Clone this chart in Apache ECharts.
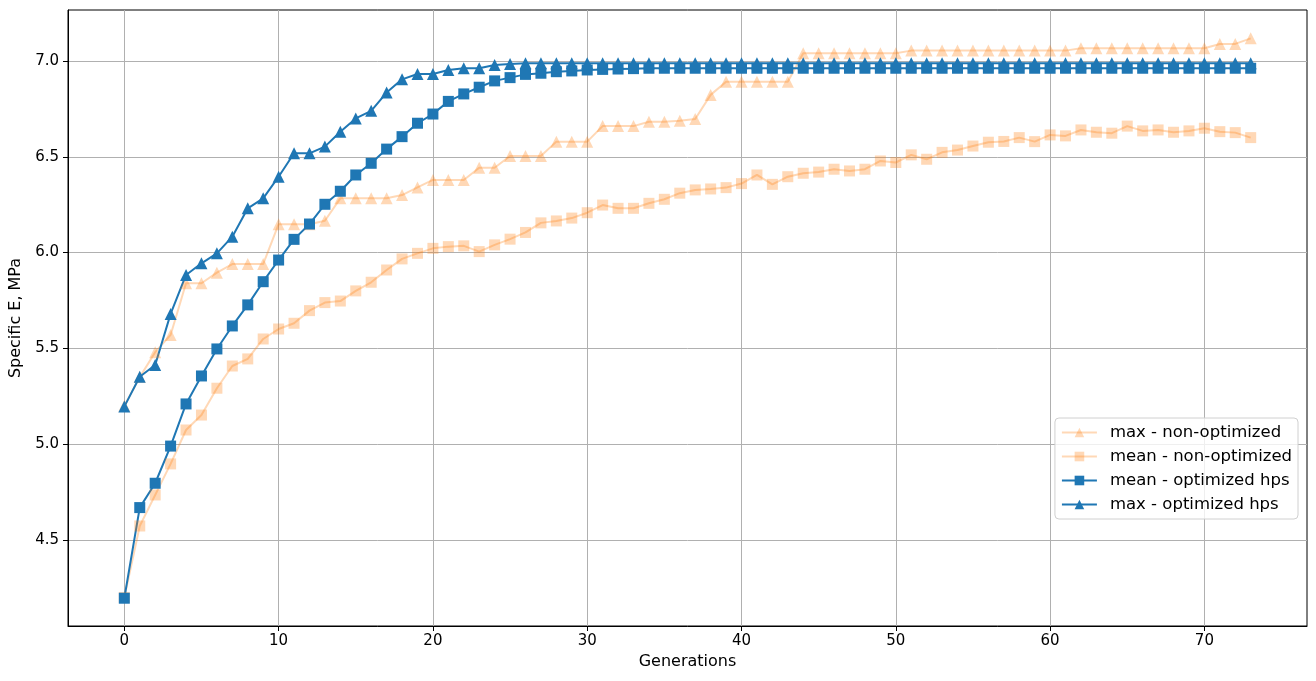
<!DOCTYPE html>
<html>
<head>
<meta charset="utf-8">
<script src="https://cdn.jsdelivr.net/npm/echarts@6/dist/echarts.min.js"></script>
<style>html,body{margin:0;padding:0;background:#fff}#c{width:1316px;height:681px}</style>
</head>
<body>
<div id="c"></div>
<script>
const generations = [0,1,2,3,4,5,6,7,8,9,10,11,12,13,14,15,16,17,18,19,20,21,22,23,24,25,26,27,28,29,30,31,32,33,34,35,36,37,38,39,40,41,42,43,44,45,46,47,48,49,50,51,52,53,54,55,56,57,58,59,60,61,62,63,64,65,66,67,68,69,70,71,72,73];
const maxNonOptimized = [5.20,5.35,5.48,5.57,5.84,5.84,5.895,5.94,5.94,5.94,6.148,6.148,6.148,6.166,6.283,6.283,6.283,6.283,6.30,6.34,6.379,6.379,6.379,6.443,6.443,6.504,6.504,6.504,6.579,6.579,6.579,6.66,6.66,6.66,6.683,6.683,6.688,6.697,6.823,6.892,6.892,6.892,6.892,6.892,7.04,7.04,7.04,7.04,7.04,7.04,7.04,7.054,7.054,7.054,7.054,7.054,7.054,7.054,7.054,7.054,7.054,7.054,7.066,7.066,7.066,7.066,7.066,7.066,7.066,7.066,7.066,7.089,7.089,7.118];
const meanNonOptimized = [4.20,4.573,4.735,4.897,5.074,5.152,5.292,5.408,5.445,5.549,5.601,5.631,5.697,5.739,5.747,5.80,5.845,5.909,5.967,5.996,6.022,6.031,6.035,6.005,6.04,6.07,6.105,6.155,6.165,6.18,6.208,6.248,6.231,6.231,6.257,6.278,6.31,6.327,6.332,6.339,6.36,6.405,6.356,6.396,6.414,6.42,6.435,6.426,6.435,6.478,6.47,6.51,6.487,6.523,6.535,6.556,6.576,6.58,6.60,6.579,6.614,6.609,6.64,6.628,6.623,6.66,6.635,6.64,6.628,6.635,6.649,6.631,6.626,6.60];
const meanOptimized = [4.196,4.669,4.796,4.99,5.21,5.356,5.497,5.617,5.727,5.848,5.961,6.069,6.149,6.252,6.32,6.405,6.466,6.54,6.605,6.675,6.723,6.789,6.828,6.863,6.896,6.913,6.93,6.936,6.944,6.948,6.953,6.956,6.958,6.96,6.962,6.962,6.962,6.962,6.962,6.962,6.962,6.962,6.962,6.962,6.962,6.962,6.962,6.962,6.962,6.962,6.962,6.962,6.962,6.962,6.962,6.962,6.962,6.962,6.962,6.962,6.962,6.962,6.962,6.962,6.962,6.962,6.962,6.962,6.962,6.962,6.962,6.962,6.962,6.962];
const maxOptimized = [5.196,5.352,5.413,5.68,5.883,5.944,5.996,6.083,6.231,6.283,6.396,6.518,6.518,6.553,6.631,6.70,6.74,6.835,6.904,6.932,6.932,6.953,6.962,6.962,6.979,6.984,6.988,6.988,6.988,6.988,6.988,6.988,6.988,6.988,6.988,6.988,6.988,6.988,6.988,6.988,6.988,6.988,6.988,6.988,6.988,6.988,6.988,6.988,6.988,6.988,6.988,6.988,6.988,6.988,6.988,6.988,6.988,6.988,6.988,6.988,6.988,6.988,6.988,6.988,6.988,6.988,6.988,6.988,6.988,6.988,6.988,6.988,6.988,6.988];
const xTicks = [0,10,20,30,40,50,60,70];
const yTicks = [4.5,5.0,5.5,6.0,6.5,7.0];

const BLUE = '#1f77b4', ORANGE = '#ff7f0e';
const FONT = 'DejaVu Sans';
function pairs(arr){ return generations.map((g,i)=>[g,arr[i]]); }
function mk(name, arr, color, symbol, faint){
  return {
    name, type:'line', data: pairs(arr), symbol, symbolSize: symbol==='rect'?11:12,
    showSymbol:true, animation:false,
    lineStyle:{color, width:2, opacity: faint?0.3:1},
    itemStyle:{color, opacity: faint?0.3:1, borderWidth:0},
    emphasis:{disabled:true}
  };
}
const chart = echarts.init(document.getElementById('c'), null, {renderer:'canvas'});
chart.setOption({
  animation:false,
  backgroundColor:'#fff',
  textStyle:{fontFamily:FONT},
  grid:{left:68, right:9, top:10, bottom:55, containLabel:false, outerBoundsMode:'none', show:true, borderColor:'#000', borderWidth:1, backgroundColor:'transparent'},
  xAxis:{
    type:'value', min:-3.65, max:76.65,
    name:'Generations', nameLocation:'middle', nameGap:28,
    nameTextStyle:{fontSize:16, color:'#000', fontFamily:FONT},
    axisLine:{show:true, onZero:false, lineStyle:{color:'#000', width:1}},
    axisTick:{show:true, length:5, inside:false, customValues:xTicks, lineStyle:{color:'#000'}},
    axisLabel:{customValues:xTicks, fontSize:15, color:'#000', margin:8, fontFamily:FONT},
    splitLine:{show:true, lineStyle:{color:'#b0b0b0', width:1}}
  },
  yAxis:{
    type:'value', min:4.051, max:7.266,
    name:'Specific E, MPa', nameLocation:'middle', nameGap:43,
    nameTextStyle:{fontSize:16, color:'#000', fontFamily:FONT},
    axisLine:{show:true, onZero:false, lineStyle:{color:'#000', width:1}},
    axisTick:{show:true, length:5, inside:false, customValues:yTicks, lineStyle:{color:'#000'}},
    axisLabel:{customValues:yTicks, fontSize:15, color:'#000', margin:9, fontFamily:FONT, formatter:v=>v.toFixed(1)},
    splitLine:{show:true, lineStyle:{color:'#b0b0b0', width:1}}
  },
  legend:{
    right:18, top:418, orient:'vertical', itemGap:7, itemWidth:35, itemHeight:12,
    padding:[6,6,6,6], backgroundColor:'rgba(255,255,255,0.8)', borderColor:'#d0d0d0', borderWidth:1, borderRadius:4,
    textStyle:{fontSize:16.5, color:'#000', fontFamily:FONT, padding:[0,0,0,8]},
    data:['max - non-optimized','mean - non-optimized','mean - optimized hps','max - optimized hps']
  },
  series:[
    mk('max - non-optimized', maxNonOptimized, ORANGE, 'triangle', true),
    mk('mean - non-optimized', meanNonOptimized, ORANGE, 'rect', true),
    mk('mean - optimized hps', meanOptimized, BLUE, 'rect', false),
    mk('max - optimized hps', maxOptimized, BLUE, 'triangle', false)
  ]
});
</script>
</body>
</html>
